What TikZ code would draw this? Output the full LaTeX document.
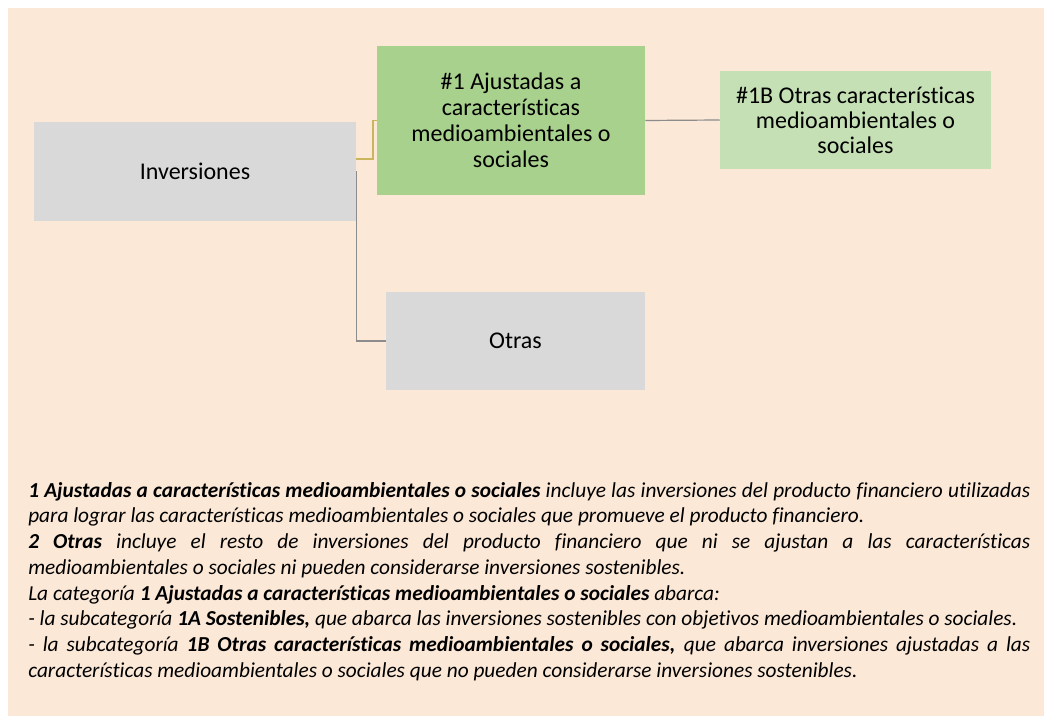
\documentclass[tikz,border=0pt]{standalone}
\usepackage{fontspec}
\setmainfont{Carlito}[Ligatures=NoCommon]
\usepackage{xcolor}
\usepackage{tikz}
\usetikzlibrary{positioning}

\definecolor{bgpeach}{HTML}{FBE8D7}
\definecolor{boxgray}{HTML}{D9D9D9}
\definecolor{boxgreen}{HTML}{A9D18E}
\definecolor{lightgreen}{HTML}{C5E0B4}
\definecolor{linegold}{HTML}{C9B55C}
\definecolor{linegray}{HTML}{8C8C8C}

\begin{document}
\begin{tikzpicture}[
    x=0.75pt, y=-0.75pt,
    graybox/.style={rectangle, fill=boxgray, inner sep=0pt, align=center, font=\fontsize{18}{21}\selectfont},
    greenbox/.style={rectangle, fill=boxgreen, inner sep=0pt, align=center, font=\fontsize{18}{19.5}\selectfont},
    subbox/.style={rectangle, fill=lightgreen, inner sep=0pt, align=center, font=\fontsize{18}{18.75}\selectfont},
    note/.style={inner sep=0pt, anchor=north west, text width=751.5pt, align=justify, font=\fontsize{16}{19.3}\selectfont\itshape},
    goldline/.style={draw=linegold, line width=0.9pt},
    grayline/.style={draw=linegray, line width=0.9pt}
]

% Background
\fill[white] (0,0) rectangle (1044,716);
\fill[bgpeach] (8,8) rectangle (1044,716);

% Boxes
\node[graybox, minimum width=241.5pt, minimum height=74.25pt] (inv) at (195, 171.5) {Inversiones};
\node[greenbox, minimum width=201pt, minimum height=111.75pt] (adj) at (511, 120.5) {\#1 Ajustadas a\\características\\medioambientales o\\sociales};
\node[subbox, minimum width=203.25pt, minimum height=73.5pt] (otc) at (855.5, 120) {\#1B Otras características\\medioambientales o\\sociales};
\node[graybox, minimum width=194.25pt, minimum height=73.5pt] (otr) at (515.5, 341) {Otras};

% Connections
\coordinate (knee) at (373, 120.5);
\draw[goldline] ([yshift=9.4pt]inv.east) -| (knee) -- (adj.west);
\draw[grayline] (inv.east) |- (otr.west);
\draw[grayline] (adj.east) -- (otc.west);

% Notes
\node[note] (notes) at (28, 482) {%
\textbf{1 Ajustadas a características medioambientales o sociales} incluye las inversiones del producto financiero utilizadas\linebreak para lograr las características medioambientales o sociales que promueve el producto financiero.\par
\textbf{2 Otras} incluye el resto de inversiones del producto financiero que ni se ajustan a las características\linebreak medioambientales o sociales ni pueden considerarse inversiones sostenibles.\par
La categoría \textbf{1 Ajustadas a características medioambientales o sociales} abarca:\par
- la subcategoría \textbf{1A Sostenibles,} que abarca las inversiones sostenibles con objetivos medioambientales o sociales.\par
- la subcategoría \textbf{1B Otras características medioambientales o sociales,} que abarca inversiones ajustadas a las\linebreak características medioambientales o sociales que no pueden considerarse inversiones sostenibles.};

\end{tikzpicture}
\end{document}
